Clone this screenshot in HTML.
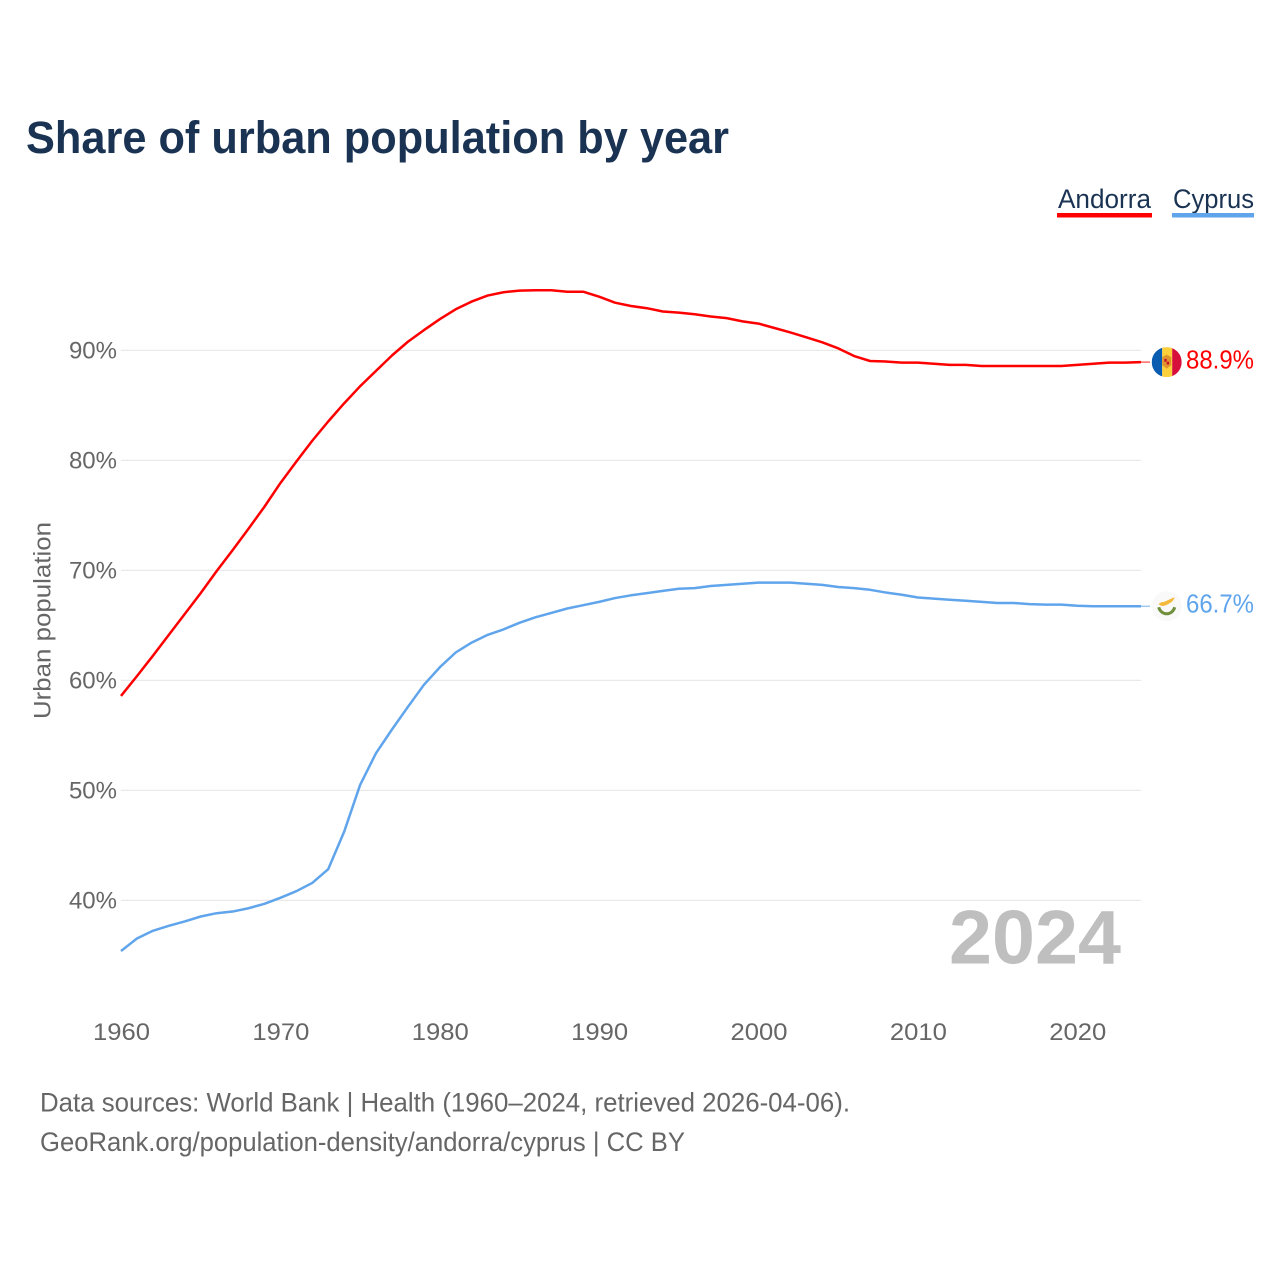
<!DOCTYPE html>
<html lang="en">
<head>
<meta charset="utf-8">
<title>Share of urban population by year</title>
<style>
html,body{margin:0;padding:0;background:#fff;width:1280px;height:1280px;overflow:hidden}
svg{display:block;font-family:"Liberation Sans",sans-serif}
</style>
</head>
<body>
<svg id="chart" xmlns="http://www.w3.org/2000/svg" width="1280" height="1280" viewBox="0 0 1280 1280">
  <rect width="1280" height="1280" fill="#ffffff"/>
  <text x="26" y="153" font-size="45" font-weight="700" fill="#1a3353" textLength="703" lengthAdjust="spacingAndGlyphs">Share of urban population by year</text>
  <g>
    <text x="1058" y="208" font-size="27" fill="#1a3353" textLength="93" lengthAdjust="spacingAndGlyphs">Andorra</text>
    <rect x="1057" y="213" width="95" height="4.5" fill="#ff0000"/>
  </g>
  <g>
    <text x="1173" y="208" font-size="27" fill="#1a3353" textLength="81" lengthAdjust="spacingAndGlyphs">Cyprus</text>
    <rect x="1172" y="213" width="82" height="4.5" fill="#60a5ec"/>
  </g>
  <g id="grid"></g>
  <g id="yticks"></g>
  <g id="xticks"></g>
  <text transform="translate(50.5,719) rotate(-90)" font-size="24" fill="#666666" textLength="197" lengthAdjust="spacingAndGlyphs">Urban population</text>
  <text x="949" y="963.5" font-size="76" font-weight="700" fill="#bfbfbf" textLength="172" lengthAdjust="spacingAndGlyphs">2024</text>
  <g id="series"></g>
  <g id="flag-andorra">
    <clipPath id="clip-ad"><circle cx="0" cy="0" r="15"/></clipPath>
    <g clip-path="url(#clip-ad)">
      <rect x="-15" y="-15" width="10.5" height="30" fill="#0a5cb0"/>
      <rect x="-4.5" y="-15" width="10" height="30" fill="#fcd03a"/>
      <rect x="5.5" y="-15" width="9.5" height="30" fill="#d6103b"/>
      <path d="M-4.5 -5 L0 -7.5 L4.5 -5 L4.5 3 L0 6.5 L-4.5 3 Z" fill="#e0952c"/>
      <rect x="-2.4" y="-3.2" width="2.4" height="2.8" fill="#c8102e"/>
      <rect x="0" y="-0.4" width="2.4" height="2.8" fill="#c8102e"/>
    </g>
  </g>
  <g id="flag-cyprus">
    <circle r="15" fill="#f9f9f9"/>
    <path d="M-8 -2 C-7 -4 -4 -4 -1 -5 C2 -6.5 5 -8 8 -9 C7 -6 5 -4 2 -2.5 C-1 -0.5 -5 1 -8 -2 Z" fill="#f4b83a"/>
    <path d="M-8 1 C-7 5 -3.5 7.5 0 7.5 C3.5 7.5 7 5 8 1" fill="none" stroke="#6f8f3a" stroke-width="3"/>
  </g>
  <g id="end-labels"></g>
  <text x="40" y="1111.5" font-size="27" fill="#666666" textLength="810" lengthAdjust="spacingAndGlyphs">Data sources: World Bank | Health (1960–2024, retrieved 2026-04-06).</text>
  <text x="40" y="1151" font-size="27" fill="#666666" textLength="645" lengthAdjust="spacingAndGlyphs">GeoRank.org/population-density/andorra/cyprus | CC BY</text>
</svg>
<script>
const startYear = 1960;
const endYear = 2024;
const yTickValues = [40, 50, 60, 70, 80, 90];
const xTickValues = [1960, 1970, 1980, 1990, 2000, 2010, 2020];
const andorraValues = [58.55,60.35,62.2,64.1,66.0,67.9,69.9,71.8,73.75,75.75,77.9,79.85,81.75,83.5,85.15,86.7,88.1,89.5,90.75,91.8,92.8,93.7,94.4,94.95,95.25,95.4,95.43,95.43,95.3,95.3,94.85,94.3,94.0,93.8,93.5,93.4,93.25,93.05,92.9,92.6,92.4,92.0,91.6,91.15,90.7,90.15,89.45,89.0,88.95,88.85,88.85,88.75,88.65,88.65,88.55,88.55,88.55,88.55,88.55,88.55,88.65,88.75,88.85,88.85,88.9];
const cyprusValues = [35.36,36.5,37.2,37.65,38.05,38.5,38.8,38.95,39.25,39.65,40.2,40.8,41.55,42.8,46.2,50.45,53.35,55.5,57.55,59.55,61.15,62.5,63.4,64.1,64.6,65.2,65.7,66.1,66.5,66.8,67.1,67.45,67.7,67.9,68.1,68.3,68.35,68.55,68.65,68.75,68.85,68.85,68.85,68.75,68.65,68.45,68.35,68.2,67.95,67.75,67.5,67.4,67.3,67.2,67.1,67.0,67.0,66.9,66.85,66.85,66.75,66.7,66.7,66.7,66.7];

const NS = 'http://www.w3.org/2000/svg';
const plotLeft = 121, plotRight = 1141;
function xScale(year) { return plotLeft + (year - startYear) * (plotRight - plotLeft) / (endYear - startYear); }
function yScale(v) { return 680 - (v - 60) * 11; }
function make(tag, attrs, parent, text) {
  const el = document.createElementNS(NS, tag);
  for (const k in attrs) el.setAttribute(k, attrs[k]);
  if (text !== undefined) el.textContent = text;
  parent.appendChild(el);
  return el;
}
const gridGroup = document.getElementById('grid');
const yTickGroup = document.getElementById('yticks');
const xTickGroup = document.getElementById('xticks');
const seriesGroup = document.getElementById('series');
const labelGroup = document.getElementById('end-labels');

yTickValues.forEach(function (v) {
  const line = make('line', {x1: plotLeft, x2: plotRight, y1: yScale(v) + 0.4, y2: yScale(v) + 0.4, stroke: '#e9e9e9', 'stroke-width': 1.2}, gridGroup);
  
  
  const label = make('text', {x: 117, y: yScale(v) + 8.4, 'text-anchor': 'end', 'font-size': 24, fill: '#666666'}, yTickGroup, v + '%');
  
  
});
xTickValues.forEach(function (year) {
  const label = make('text', {x: xScale(year) - 28, y: 1040, 'font-size': 24, fill: '#666666', textLength: 57, lengthAdjust: 'spacingAndGlyphs'}, xTickGroup, String(year));
  
  
});
function drawSeries(values, color, name, labelText) {
  const pts = values.map(function (v, i) { return xScale(startYear + i).toFixed(2) + ',' + yScale(v).toFixed(2); }).join(' ');
  const line = make('polyline', {points: pts, fill: 'none', stroke: color, 'stroke-width': 2.5, 'stroke-linejoin': 'round'}, seriesGroup);
  
  
  const lastY = yScale(values[values.length - 1]);
  const tail = make('line', {x1: plotRight, x2: 1150, y1: lastY, y2: lastY, stroke: color, 'stroke-width': 1.5, opacity: 0.6}, seriesGroup);
  
  
  document.getElementById('flag-' + name).setAttribute('transform', 'translate(1166.7,' + lastY.toFixed(2) + ')');
  const label = make('text', {x: 1186, y: lastY + 6.4, 'font-size': 26, fill: color, textLength: 68, lengthAdjust: 'spacingAndGlyphs'}, labelGroup, labelText);
  
  
}
drawSeries(andorraValues, '#ff0000', 'andorra', andorraValues[andorraValues.length - 1].toFixed(1) + '%');
drawSeries(cyprusValues, '#60a5ec', 'cyprus', cyprusValues[cyprusValues.length - 1].toFixed(1) + '%');
</script>
</body>
</html>
